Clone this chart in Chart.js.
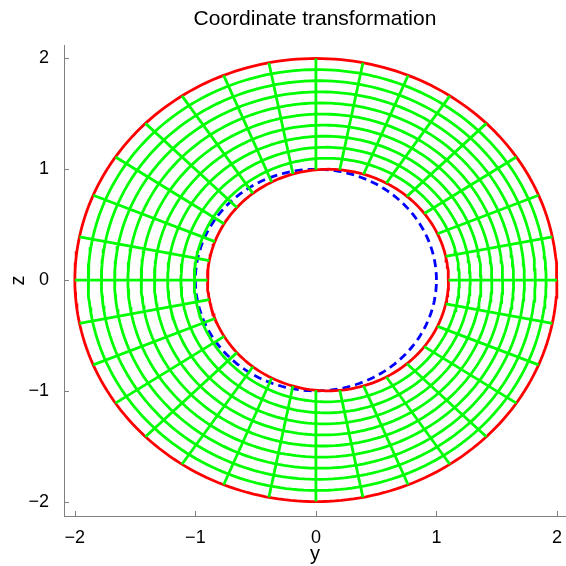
<!DOCTYPE html>
<html lang="en">
<head>
  <meta charset="UTF-8">
  <title>Coordinate transformation</title>
  <script src="https://cdn.jsdelivr.net/npm/chart.js"></script>
  <style>
    body { margin: 0; background: #fff; }
    #c { display: block; }
  </style>
</head>
<body>
  <canvas id="c" width="566" height="566"></canvas>
  <script>
    // values
    var innerCenter = [0.1, 0];      // inner red circle, shifted right
    var innerRadius = 1;
    var outerRadius = 2;             // outer red circle, centred at the origin
    var dashedCenter = [0, 0];       // blue dashed reference circle
    var dashedRadius = 1;
    var ringLevels = [0.1, 0.2, 0.3, 0.4, 0.5, 0.6, 0.7, 0.8, 0.9]; // green rings between inner (0) and outer (1)
    var spokeCount = 32;             // green rays from the origin
    var yTicks = [-2, -1, 0, 1, 2];
    var zTicks = [-2, -1, 0, 1, 2];

    var samples = 240;

    // distance along the ray at angle th from the origin to the inner circle
    function innerDist(th) {
      var ux = Math.cos(th), uy = Math.sin(th);
      var b = ux * innerCenter[0] + uy * innerCenter[1];
      var cc = innerCenter[0] * innerCenter[0] + innerCenter[1] * innerCenter[1];
      return b + Math.sqrt(b * b - cc + innerRadius * innerRadius);
    }

    // point at angle th, level s (0 = inner circle, 1 = outer circle)
    function mapPoint(th, s) {
      var r0 = innerDist(th);
      var r = r0 + (outerRadius - r0) * s;
      return { x: r * Math.cos(th), y: r * Math.sin(th) };
    }

    function ringPoints(s) {
      var pts = [];
      for (var i = 0; i <= samples; i++) {
        pts.push(mapPoint(2 * Math.PI * i / samples, s));
      }
      return pts;
    }

    function circlePoints(cx, cy, r) {
      var pts = [];
      for (var i = 0; i <= samples; i++) {
        var t = 2 * Math.PI * i / samples;
        pts.push({ x: cx + r * Math.cos(t), y: cy + r * Math.sin(t) });
      }
      return pts;
    }

    function lineSet(data, color, dash) {
      return {
        data: data,
        showLine: true,
        borderColor: color,
        borderWidth: 2.8,
        borderDash: dash || [],
        pointRadius: 0,
        fill: false,
        tension: 0
      };
    }

    var datasets = [];

    // green rings
    ringLevels.forEach(function (s) {
      datasets.push(lineSet(ringPoints(s), '#00ff00'));
    });

    // green spokes
    for (var k = 0; k < spokeCount; k++) {
      var th = 2 * Math.PI * k / spokeCount;
      datasets.push(lineSet([mapPoint(th, 0), mapPoint(th, 1)], '#00ff00'));
    }

    // red boundaries
    datasets.push(lineSet(ringPoints(0), '#ff0000'));
    datasets.push(lineSet(ringPoints(1), '#ff0000'));

    // blue dashed circle
    datasets.push(lineSet(circlePoints(dashedCenter[0], dashedCenter[1], dashedRadius), '#0000ff', [8, 5]));

    var fontFam = '"Liberation Sans", Arial, sans-serif';

    function minusFmt(v) {
      return v < 0 ? '\u2212' + Math.abs(v) : String(v);
    }

    // small inward tick marks, like the original axes
    var inwardTicks = {
      id: 'inwardTicks',
      afterDraw: function (chart) {
        var ctx = chart.ctx, area = chart.chartArea;
        var xs = chart.scales.x, ys = chart.scales.y;
        ctx.save();
        ctx.strokeStyle = '#808080';
        ctx.lineWidth = 1;
        ctx.beginPath();
        yTicks.forEach(function (v) {
          var px = Math.round(xs.getPixelForValue(v)) + 0.5;
          ctx.moveTo(px, area.bottom);
          ctx.lineTo(px, area.bottom - 5);
        });
        zTicks.forEach(function (v) {
          var py = Math.round(ys.getPixelForValue(v)) + 0.5;
          ctx.moveTo(area.left, py);
          ctx.lineTo(area.left + 5, py);
        });
        ctx.stroke();
        ctx.restore();
      }
    };

    new Chart(document.getElementById('c'), {
      type: 'scatter',
      data: { datasets: datasets },
      options: {
        responsive: false,
        animation: false,
        events: [],
        layout: { padding: 0 },
        plugins: {
          legend: { display: false },
          tooltip: { enabled: false },
          title: {
            display: true,
            fullSize: false,
            text: 'Coordinate transformation',
            color: '#000',
            font: { family: fontFam, size: 21, weight: 'normal' },
            padding: { top: 7, bottom: 13 }
          }
        },
        scales: {
          x: {
            type: 'linear',
            min: -2.09,
            max: 2.075,
            afterFit: function (s) { s.height = 50; },
            afterBuildTicks: function (s) { s.ticks = yTicks.map(function (v) { return { value: v }; }); },
            grid: { display: false },
            border: { display: true, color: '#808080', width: 1 },
            ticks: {
              color: '#000',
              padding: 3,
              maxRotation: 0,
              font: { family: fontFam, size: 18 },
              callback: minusFmt
            },
            title: {
              display: true,
              text: 'y',
              color: '#000',
              font: { family: fontFam, size: 20 },
              padding: { top: 0, bottom: 0 }
            }
          },
          y: {
            type: 'linear',
            min: -2.13,
            max: 2.12,
            afterFit: function (s) { s.width = 64; },
            afterBuildTicks: function (s) { s.ticks = zTicks.map(function (v) { return { value: v }; }); },
            grid: { display: false },
            border: { display: true, color: '#808080', width: 1 },
            ticks: {
              color: '#000',
              padding: 7,
              font: { family: fontFam, size: 18 },
              callback: minusFmt
            },
            title: {
              display: true,
              text: 'z',
              color: '#000',
              font: { family: fontFam, size: 20 },
              padding: { top: 6, bottom: 0 }
            }
          }
        }
      },
      plugins: [inwardTicks]
    });
  </script>
</body>
</html>
